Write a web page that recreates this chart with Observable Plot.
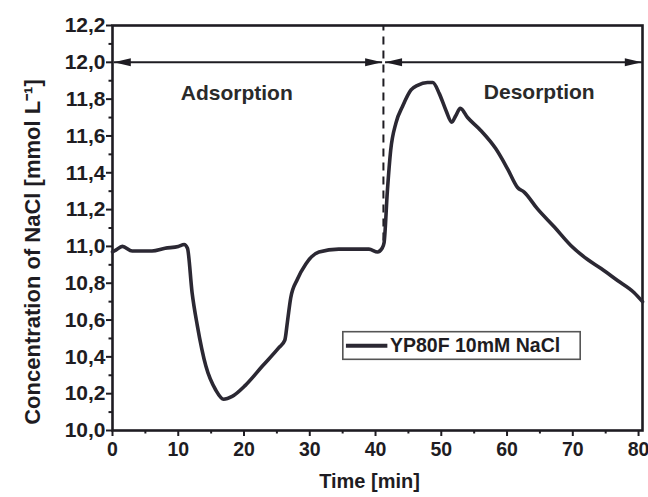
<!DOCTYPE html>
<html>
<head>
<meta charset="utf-8">
<script src="https://cdn.jsdelivr.net/npm/d3@7"></script>
<script src="https://cdn.jsdelivr.net/npm/@observablehq/plot@0.6"></script>
<style>
  html, body { margin: 0; padding: 0; background: #fff; }
</style>
</head>
<body>
<div id="chart"></div>
<script>
// ---- data ----
const time = [0, 0.5, 1.5, 3, 6, 8, 10, 10.9, 11.4, 12.1, 12.9, 14.2, 15.7, 16.9, 18.2, 20.2, 22.8, 25.3, 26.2, 26.6, 27.1, 28.1, 29.4, 31.4, 34.4, 39, 40.3, 41, 41.3, 41.8, 42.3, 43.1, 44.1, 45.4, 46.4, 47.9, 48.7, 49.7, 50.7, 51.6, 52.2, 52.9, 54, 56, 58.3, 60.1, 61.6, 62.6, 64.6, 67.2, 69.7, 72.2, 74.3, 76.8, 79.3, 80.6];
const conc = [10.97, 10.98, 11.0, 10.975, 10.975, 10.99, 11.0, 11.01, 10.99, 10.75, 10.57, 10.35, 10.22, 10.17, 10.185, 10.245, 10.35, 10.45, 10.49, 10.59, 10.72, 10.82, 10.905, 10.97, 10.985, 10.985, 10.97, 10.99, 11.02, 11.30, 11.52, 11.67, 11.76, 11.85, 11.875, 11.89, 11.89, 11.83, 11.74, 11.675, 11.71, 11.75, 11.70, 11.63, 11.53, 11.42, 11.32, 11.295, 11.205, 11.105, 11.005, 10.93, 10.88, 10.815, 10.75, 10.70];
const seriesName = "YP80F 10mM NaCl";
const xTicks = [0, 10, 20, 30, 40, 50, 60, 70, 80];
const xMinorTicks = [5, 15, 25, 35, 45, 55, 65, 75];
const yTicks = [10.0, 10.2, 10.4, 10.6, 10.8, 11.0, 11.2, 11.4, 11.6, 11.8, 12.0, 12.2];
const yMinorTicks = [10.1, 10.3, 10.5, 10.7, 10.9, 11.1, 11.3, 11.5, 11.7, 11.9, 12.1];
const phaseLabels = ["Adsorption", "Desorption"];
const phaseBoundary = 41.2;   // min, switch from adsorption to desorption
const phaseLevel = 12.0;      // level of the arrows

// ---- annotation placement (layout) ----
const xDomain = [0, 80.6];
const yDomain = [10, 12.2];
const phaseSpans = [{x1: 0.2, x2: 41.0}, {x1: 41.45, x2: 80.5}];
const phaseLabelPos = [{x: 18.9, y: 11.83}, {x: 64.9, y: 11.84}];
const dashBottom = 11.03;
const legendBox = {x1: 35.1, x2: 71.2, y1: 10.384, y2: 10.534};
const legendLine = {x1: 35.5, x2: 41.8, y: 10.46};
const legendTextX = 42.2;

const data = time.map((t, i) => ({t, c: conc[i]}));
const fmt = d => d.toFixed(1).replace(".", ",");
const ink = "#1e1c22";
const font = "'Liberation Sans', Arial, Helvetica, sans-serif";

const headRight = {draw(ctx) { ctx.moveTo(0, 0); ctx.lineTo(-17, -4); ctx.lineTo(-17, 4); ctx.closePath(); }};
const headLeft  = {draw(ctx) { ctx.moveTo(0, 0); ctx.lineTo(17, -4); ctx.lineTo(17, 4); ctx.closePath(); }};
const leftTips = phaseSpans.map(s => ({x: s.x1, y: phaseLevel}));
const rightTips = phaseSpans.map(s => ({x: s.x2, y: phaseLevel}));

const chart = Plot.plot({
  width: 648,
  height: 497,
  marginLeft: 112,
  marginRight: 6,
  marginTop: 25,
  marginBottom: 67,
  x: {domain: xDomain},
  y: {domain: yDomain},
  style: {fontFamily: font, background: "#fff", color: ink, overflow: "visible"},
  marks: [
    Plot.axisX({ticks: xTicks, tickSize: 6, tickPadding: 6, strokeWidth: 2, fontSize: 19.5, fontWeight: "bold", label: null, tickFormat: d => String(d)}),
    Plot.axisX({ticks: xMinorTicks, tickSize: 3.5, strokeWidth: 2, tickFormat: () => "", label: null}),
    Plot.axisY({ticks: yTicks, tickSize: 6, tickPadding: 1, strokeWidth: 2, fontSize: 21, fontWeight: "bold", label: null, tickFormat: fmt}),
    Plot.axisY({ticks: yMinorTicks, tickSize: 3.5, strokeWidth: 2, tickFormat: () => "", label: null}),
    Plot.frame({stroke: ink, strokeWidth: 2.6}),
    Plot.ruleX([phaseBoundary], {y1: dashBottom, y2: yDomain[1], stroke: ink, strokeWidth: 2, strokeDasharray: "8,6"}),
    Plot.link(phaseSpans, {x1: "x1", x2: "x2", y1: () => phaseLevel, y2: () => phaseLevel, stroke: ink, strokeWidth: 2}),
    Plot.dot(leftTips, {x: "x", y: "y", symbol: headLeft, fill: ink, stroke: "none"}),
    Plot.dot(rightTips, {x: "x", y: "y", symbol: headRight, fill: ink, stroke: "none"}),
    Plot.text(phaseLabels, {x: (d, i) => phaseLabelPos[i].x, y: (d, i) => phaseLabelPos[i].y, text: d => d, fontSize: 21, fontWeight: "bold", fill: "#2a2a2a"}),
    Plot.line(data, {x: "t", y: "c", stroke: "#2b2833", strokeWidth: 3.6, curve: "monotone-x", strokeLinejoin: "round"}),
    // legend
    Plot.rect([legendBox], {x1: "x1", x2: "x2", y1: "y1", y2: "y2", fill: "#fff", stroke: "#555", strokeWidth: 1.6}),
    Plot.link([legendLine], {x1: "x1", x2: "x2", y1: "y", y2: "y", stroke: "#2b2833", strokeWidth: 4}),
    Plot.text([seriesName], {x: () => legendTextX, y: () => legendLine.y, text: d => d, textAnchor: "start", fontSize: 19.5, fontWeight: "bold", fill: ink}),
    // axis titles
    Plot.text(["Time [min]"], {text: d => d, frameAnchor: "bottom", dy: 57, dx: -8, fontSize: 20, fontWeight: "bold", fill: ink}),
    Plot.text(["Concentration of NaCl [mmol L⁻¹]"], {text: d => d, frameAnchor: "left", textAnchor: "middle", rotate: -90, dx: -80, dy: 24, fontSize: 22, fontWeight: "bold", fill: ink})
  ]
});
document.getElementById("chart").appendChild(chart);
</script>
</body>
</html>
